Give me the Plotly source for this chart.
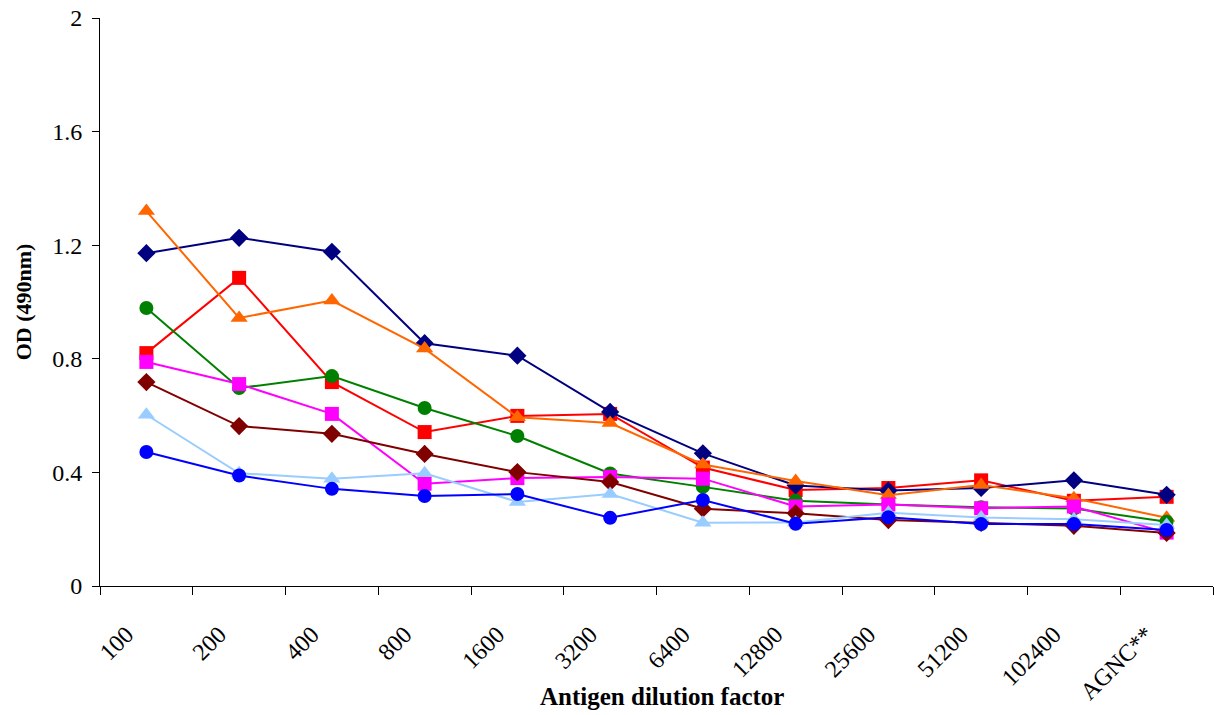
import plotly.graph_objects as go

# Antigen dilution series (x categories)
dilutions = ["100", "200", "400", "800", "1600", "3200", "6400",
             "12800", "25600", "51200", "102400", "AGNC**"]

# OD (490nm) readings for each sample
od_red = [0.820, 1.085, 0.718, 0.542, 0.599, 0.606, 0.417, 0.338, 0.345, 0.372, 0.300, 0.314]
od_navy = [1.172, 1.226, 1.177, 0.855, 0.811, 0.613, 0.467, 0.354, 0.336, 0.345, 0.372, 0.321]
od_orange = [1.320, 0.944, 1.005, 0.836, 0.594, 0.574, 0.428, 0.370, 0.320, 0.356, 0.309, 0.240]
od_green = [0.979, 0.697, 0.739, 0.627, 0.528, 0.396, 0.349, 0.300, 0.287, 0.277, 0.273, 0.226]
od_magenta = [0.789, 0.711, 0.606, 0.360, 0.380, 0.384, 0.378, 0.280, 0.287, 0.274, 0.280, 0.188]
od_darkred = [0.718, 0.563, 0.536, 0.465, 0.401, 0.366, 0.272, 0.256, 0.232, 0.222, 0.212, 0.187]
od_lightblue = [0.603, 0.397, 0.378, 0.397, 0.296, 0.324, 0.223, 0.224, 0.258, 0.241, 0.235, 0.215]
od_blue = [0.472, 0.389, 0.342, 0.317, 0.324, 0.240, 0.303, 0.219, 0.242, 0.218, 0.218, 0.197]

series = [
    (od_red, "#FF0000", "square", 14),
    (od_navy, "#000080", "diamond", 14),
    (od_orange, "#FF6600", "triangle-up", 15),
    (od_green, "#008000", "circle", 14),
    (od_magenta, "#FF00FF", "square", 14),
    (od_darkred, "#800000", "diamond", 14),
    (od_lightblue, "#99CCFF", "triangle-up", 15),
    (od_blue, "#0000FF", "circle", 14),
]

fig = go.Figure()
for values, color, symbol, size in series:
    fig.add_trace(go.Scatter(
        x=dilutions, y=values, mode="lines+markers",
        line=dict(color=color, width=2),
        marker=dict(symbol=symbol, size=size, color=color, line=dict(width=0)),
        showlegend=False,
    ))

font_family = "Liberation Serif"
fig.update_layout(
    width=1214, height=715,
    margin=dict(l=100, r=1, t=18, b=129),
    plot_bgcolor="white", paper_bgcolor="white",
    font=dict(family=font_family, color="black", size=24),
    xaxis=dict(
        type="category", tickson="boundaries", ticks="outside", ticklen=8,
        tickcolor="black", tickangle=-45, showgrid=False,
        showline=True, linecolor="black", linewidth=1,
        range=[-0.5, 11.5], tickfont=dict(size=24),
        ticklabelstandoff=24, ticklabelshift=-20,
    ),
    yaxis=dict(
        range=[0, 2], tickvals=[0, 0.4, 0.8, 1.2, 1.6, 2],
        ticktext=["0", "0.4", "0.8", "1.2", "1.6", "2"],
        ticks="outside", ticklen=7, tickcolor="black", showgrid=False,
        showline=True, linecolor="black", linewidth=1, zeroline=False,
        tickfont=dict(size=24), ticklabelstandoff=5,
        title=dict(text="<b>OD (490nm)</b>", font=dict(size=22), standoff=14),
    ),
    annotations=[dict(
        text="<b>Antigen dilution factor</b>", xref="paper", yref="paper",
        x=0.505, y=-0.195, xanchor="center", yanchor="middle",
        showarrow=False, font=dict(size=25),
    )],
)

fig.write_html("out.html")
